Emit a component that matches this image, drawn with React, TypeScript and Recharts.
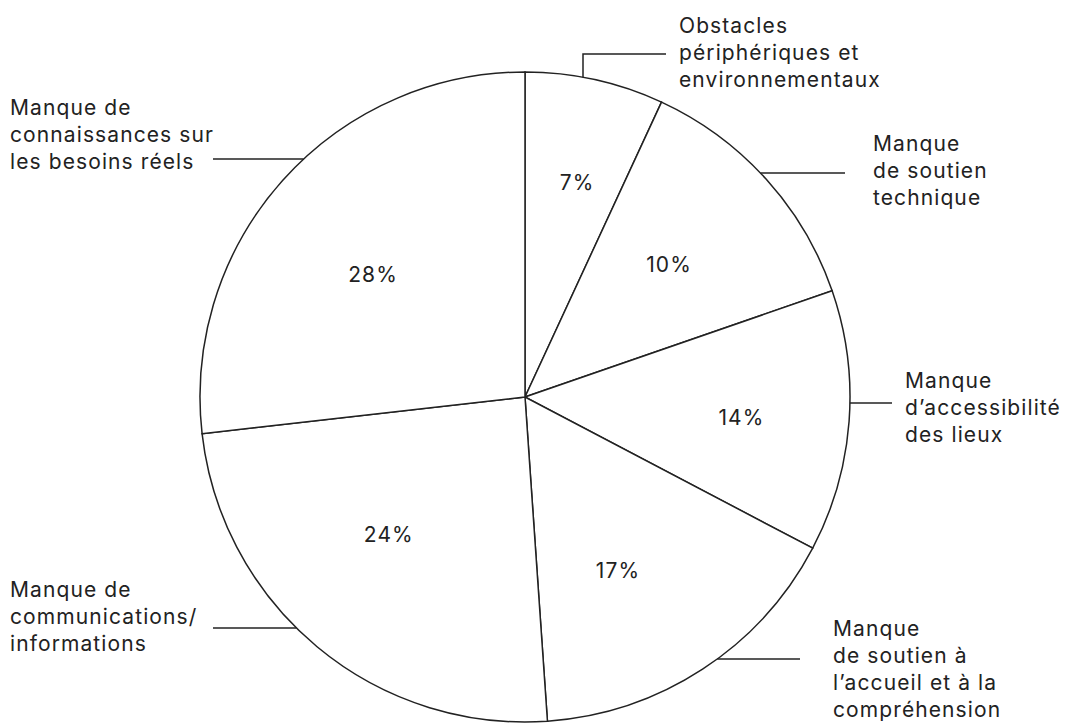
import { PieChart, Pie, Cell } from "recharts";

// slice sizes as drawn (angles), shown labels as printed
const sliceValues = [6.9, 12.8, 13.0, 16.2, 24.3, 26.8];
const percentLabels = ["7%", "10%", "14%", "17%", "24%", "28%"];
const categoryLabels = [
  ["Obstacles", "périphériques et", "environnementaux"],
  ["Manque", "de soutien", "technique"],
  ["Manque", "d’accessibilité", "des lieux"],
  ["Manque", "de soutien à", "l’accueil et à la", "compréhension"],
  ["Manque de", "communications/", "informations"],
  ["Manque de", "connaissances sur", "les besoins réels"],
];

const data = sliceValues.map((value, i) => ({
  name: categoryLabels[i].join(" "),
  value,
  label: percentLabels[i],
}));

const INK = "#222222";
const FONT = "Inter, 'Noto Sans', sans-serif";
const FONT_SIZE = 21;
const TRACKING = 1.1;
const LINE_H = 27;
const RAD = Math.PI / 180;

// nudges for the inner percentage labels
const pctNudge = [
  [8, -14],
  [-8, 5],
  [12, 5],
  [-19, 2],
  [-5, -20],
  [1, 14],
];

// callout layout: leader line y, far end x of the line, text x, first baseline
const callouts = [
  { elbowX: 583, lineY: 54, endX: 666, textX: 679, firstBase: 33 },
  { lineY: 173, endX: 845, textX: 873, firstBase: 151 },
  { lineY: 403, endX: 892, textX: 905, firstBase: 388 },
  { lineY: 659, endX: 800, textX: 833, firstBase: 636 },
  { lineY: 628, endX: 213, textX: 10, firstBase: 597 },
  { lineY: 159, endX: 213, textX: 10, firstBase: 115 },
];

function renderLabel(props: any) {
  const { cx, cy, midAngle, outerRadius, index } = props;
  const r = 205;
  const px = cx + r * Math.cos(-midAngle * RAD) + pctNudge[index][0];
  const py = cy + r * Math.sin(-midAngle * RAD) + pctNudge[index][1];
  const c = callouts[index];
  const right = Math.cos(-midAngle * RAD) > 0;

  let leader;
  if (c.elbowX !== undefined) {
    const dy = Math.sqrt(outerRadius * outerRadius - (c.elbowX - cx) ** 2);
    const startY = cy - dy;
    leader = (
      <polyline
        points={`${c.elbowX},${startY} ${c.elbowX},${c.lineY} ${c.endX},${c.lineY}`}
        fill="none"
        stroke={INK}
        strokeWidth={1.5}
      />
    );
  } else {
    const dx = Math.sqrt(outerRadius * outerRadius - (c.lineY - cy) ** 2);
    const startX = right ? cx + dx : cx - dx;
    leader = (
      <line
        x1={startX}
        y1={c.lineY}
        x2={c.endX}
        y2={c.lineY}
        stroke={INK}
        strokeWidth={1.5}
      />
    );
  }

  return (
    <g key={`lbl-${index}`}>
      <text
        x={px}
        y={py}
        textAnchor="middle"
        dominantBaseline="central"
        fill={INK}
        fontFamily={FONT}
        fontSize={FONT_SIZE}
        letterSpacing={TRACKING}
      >
        {percentLabels[index]}
      </text>
      {leader}
      <text
        x={c.textX}
        y={c.firstBase}
        fill={INK}
        fontFamily={FONT}
        fontSize={FONT_SIZE}
        letterSpacing={TRACKING}
      >
        {categoryLabels[index].map((line, j) => (
          <tspan key={j} x={c.textX} y={c.firstBase + j * LINE_H}>
            {line}
          </tspan>
        ))}
      </text>
    </g>
  );
}

export default function App() {
  return (
    <div style={{ position: "absolute", left: 0, top: 0, background: "#fff" }}>
      <PieChart width={1066} height={724} margin={{ top: 0, right: 0, bottom: 0, left: 0 }}>
        <Pie
          data={data}
          dataKey="value"
          nameKey="name"
          cx={525}
          cy={397}
          outerRadius={325}
          startAngle={90}
          endAngle={-270}
          stroke={INK}
          strokeWidth={1.5}
          label={renderLabel}
          labelLine={false}
          isAnimationActive={false}
        >
          {data.map((_, i) => (
            <Cell key={i} fill="#ffffff" />
          ))}
        </Pie>
      </PieChart>
    </div>
  );
}
